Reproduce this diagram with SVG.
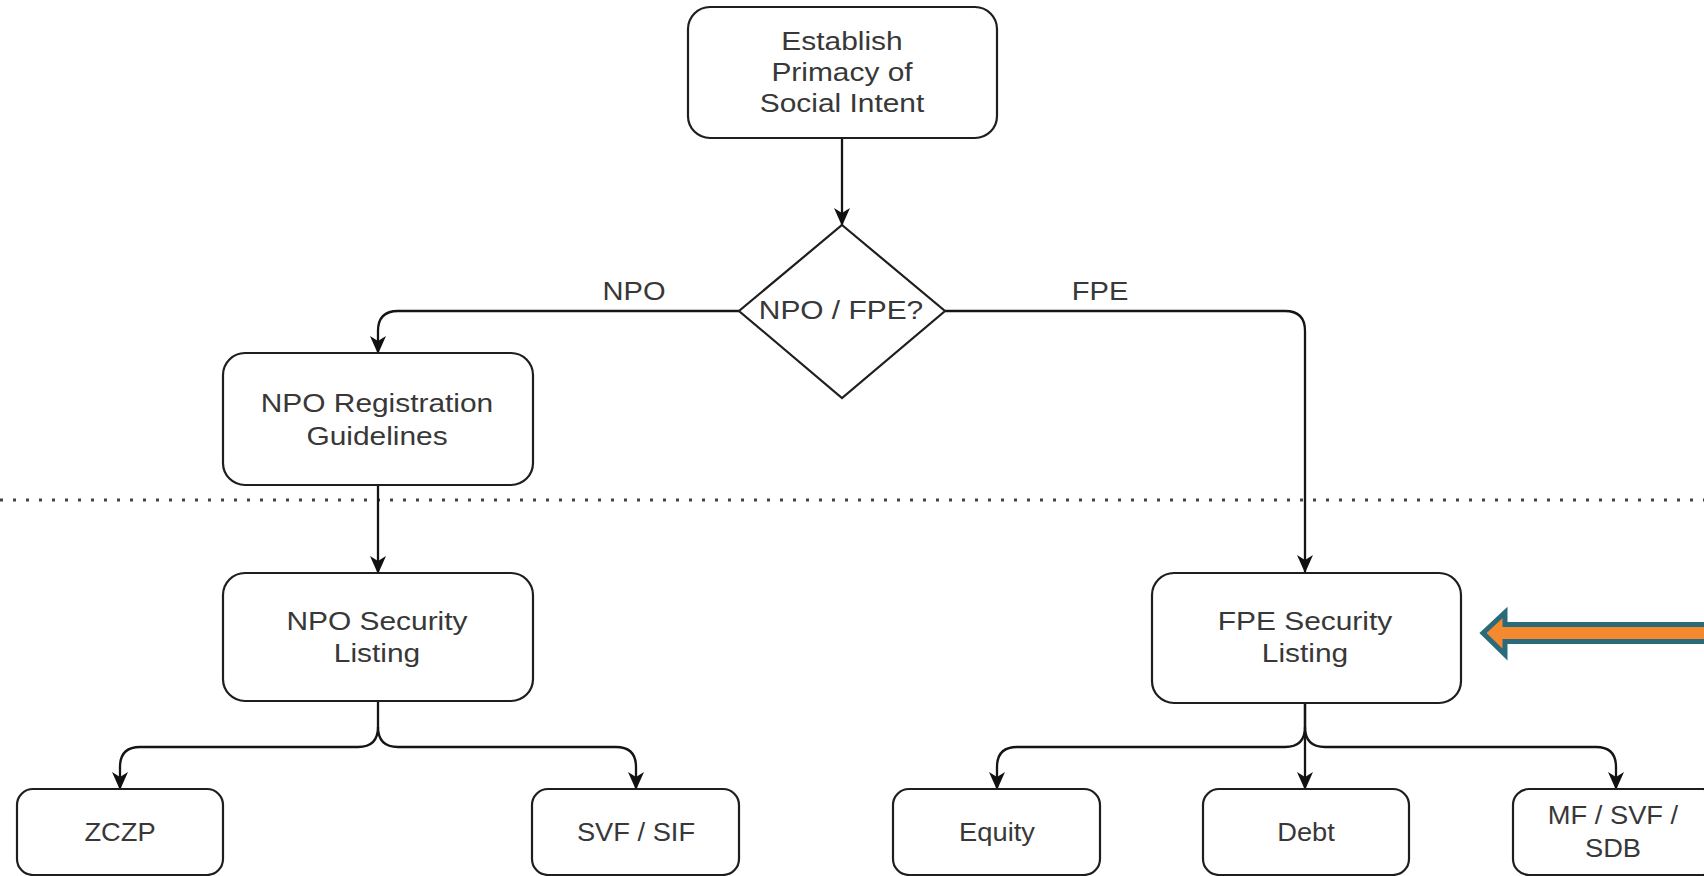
<svg xmlns="http://www.w3.org/2000/svg" width="1704" height="876" viewBox="0 0 1704 876">
<style>
.box{fill:#fff;stroke:#1e1e1e;stroke-width:2.2}
.t{font-family:"Liberation Sans",Arial,sans-serif;font-size:26px;fill:#383838;text-anchor:middle}
.c{fill:none;stroke:#151515;stroke-width:2.3}
</style>
<defs>
<marker id="arr" viewBox="0 0 18 18" refX="17" refY="9" markerWidth="18" markerHeight="18" markerUnits="userSpaceOnUse" orient="auto">
<path d="M0,1 L18,9 L0,17 L5,9 Z" fill="#111"/>
</marker>
</defs>
<rect width="1704" height="876" fill="#fff"/>
<line x1="0" y1="500" x2="1704" y2="500" stroke="#444" stroke-width="3" stroke-dasharray="3 10"/>
<g id="connectors">
<path class="c" d="M842,138 L842,225" marker-end="url(#arr)"/>
<path class="c" d="M739,311 L398,311 Q378,311 378,331 L378,353" marker-end="url(#arr)"/>
<path class="c" d="M945,311 L1285,311 Q1305,311 1305,331 L1305,572" marker-end="url(#arr)"/>
<path class="c" d="M378,485 L378,573" marker-end="url(#arr)"/>
<path class="c" d="M378,701 L378,727 Q378,747 358,747 L140,747 Q120,747 120,767 L120,789" marker-end="url(#arr)"/>
<path class="c" d="M378,727 Q378,747 398,747 L616,747 Q636,747 636,767 L636,789" marker-end="url(#arr)"/>
<path class="c" d="M1305,703 L1305,727 Q1305,747 1285,747 L1017,747 Q997,747 997,767 L997,789" marker-end="url(#arr)"/>
<path class="c" d="M1305,703 L1305,789" marker-end="url(#arr)"/>
<path class="c" d="M1305,727 Q1305,747 1325,747 L1596,747 Q1616,747 1616,767 L1616,789" marker-end="url(#arr)"/>
<text class="t" transform="translate(634,300) scale(1.12,1)">NPO</text>
<text class="t" transform="translate(1100,300) scale(1.12,1)">FPE</text>
</g>
<g id="n-establish">
<rect class="box" x="688" y="7" width="309" height="131" rx="22"/>
<text class="t" transform="translate(842,50) scale(1.15,1)">Establish</text>
<text class="t" transform="translate(842,81) scale(1.15,1)">Primacy of</text>
<text class="t" transform="translate(842,112) scale(1.15,1)">Social Intent</text>
</g>
<g id="n-decision">
<polygon points="842,225 945,311 842,398 739,311" fill="#fff" stroke="#1e1e1e" stroke-width="2.2"/>
<text class="t" transform="translate(841,319) scale(1.15,1)">NPO / FPE?</text>
</g>
<g id="n-npo-reg">
<rect class="box" x="223" y="353" width="310" height="132" rx="22"/>
<text class="t" transform="translate(377,412) scale(1.15,1)">NPO Registration</text>
<text class="t" transform="translate(377,445) scale(1.15,1)">Guidelines</text>
</g>
<g id="n-npo-sec">
<rect class="box" x="223" y="573" width="310" height="128" rx="22"/>
<text class="t" transform="translate(377,630) scale(1.15,1)">NPO Security</text>
<text class="t" transform="translate(377,662) scale(1.15,1)">Listing</text>
</g>
<g id="n-fpe-sec">
<rect class="box" x="1152" y="573" width="309" height="130" rx="22"/>
<text class="t" transform="translate(1305,630) scale(1.15,1)">FPE Security</text>
<text class="t" transform="translate(1305,662) scale(1.15,1)">Listing</text>
</g>
<g id="n-zczp">
<rect class="box" x="17" y="789" width="206" height="86" rx="16"/>
<text class="t" transform="translate(120,841) scale(1.05,1)">ZCZP</text>
</g>
<g id="n-svf">
<rect class="box" x="532" y="789" width="207" height="86" rx="16"/>
<text class="t" transform="translate(636,841) scale(1.05,1)">SVF / SIF</text>
</g>
<g id="n-equity">
<rect class="box" x="893" y="789" width="207" height="86" rx="16"/>
<text class="t" transform="translate(997,841) scale(1.05,1)">Equity</text>
</g>
<g id="n-debt">
<rect class="box" x="1203" y="789" width="206" height="86" rx="16"/>
<text class="t" transform="translate(1306,841) scale(1.05,1)">Debt</text>
</g>
<g id="n-mf">
<rect class="box" x="1513" y="789" width="206" height="86" rx="16"/>
<text class="t" transform="translate(1613,824) scale(1.05,1)">MF / SVF /</text>
<text class="t" transform="translate(1613,857) scale(1.05,1)">SDB</text>
</g>
<g id="callout-arrow">
<polygon points="1483,633 1505,612.5 1505,624.5 1712,624.5 1712,641.5 1505,641.5 1505,654.5" fill="#F4892F" stroke="#2A6A7A" stroke-width="5"/>
</g>
</svg>
